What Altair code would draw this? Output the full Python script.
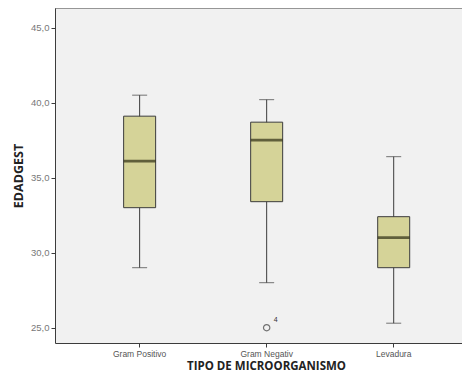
import altair as alt
import pandas as pd

categories = ["Gram Positivo", "Gram Negativ", "Levadura"]
lower_whisker = [29.0, 28.0, 25.3]
q1 = [33.0, 33.4, 29.0]
median = [36.1, 37.5, 31.0]
q3 = [39.1, 38.7, 32.4]
upper_whisker = [40.5, 40.2, 36.4]

outlier_cat = ["Gram Negativ"]
outlier_val = [25.0]
outlier_lbl = ["4"]

y_ticks = [25, 30, 35, 40, 45]
y_domain = [23.98, 46.31]

df = pd.DataFrame({
    "cat": categories,
    "lo": lower_whisker,
    "q1": q1,
    "med": median,
    "q3": q3,
    "hi": upper_whisker,
})
dfo = pd.DataFrame({"cat": outlier_cat, "v": outlier_val, "lbl": outlier_lbl})

dark = "#3c3c3c"
FONT = "Liberation Sans"

x_enc = alt.X(
    "cat:N",
    sort=categories,
    scale=alt.Scale(paddingInner=0, paddingOuter=0.102, align=0.815),
    axis=alt.Axis(
        title="TIPO DE MICROORGANISMO",
        labelAngle=0,
        labelFontSize=8.5,
        labelColor="#555555",
        labelFont=FONT,
        tickSize=4,
        tickColor=dark,
        domainColor=dark,
        labelPadding=2,
        titleFont="Open Sans",
        titleFontSize=11.5,
        titleFontWeight="bold",
        titleColor="#222222",
        titlePadding=3,
        titleX=211,
        titleAlign="center",
    ),
)
y_scale = alt.Scale(domain=y_domain, nice=False, zero=False)
y_axis = alt.Axis(
    title="EDADGEST",
    values=y_ticks,
    format=".1f",
    labelExpr="replace(datum.label, '.', ',')",
    labelFontSize=9.5,
    labelColor="#777777",
    labelFont=FONT,
    tickSize=4,
    tickColor=dark,
    domainColor=dark,
    labelPadding=2,
    grid=False,
    titleFont="Open Sans",
    titleFontSize=12.5,
    titleFontWeight="bold",
    titleColor="#222222",
    titlePadding=5,
)

base = alt.Chart(df)

whisker = base.mark_rule(color=dark, strokeWidth=1).encode(
    x=x_enc,
    y=alt.Y("lo:Q", scale=y_scale, axis=y_axis),
    y2="hi:Q",
)
caps_lo = base.mark_tick(color=dark, size=15, thickness=1).encode(
    x=alt.X("cat:N", sort=categories), y=alt.Y("lo:Q")
)
caps_hi = base.mark_tick(color=dark, size=15, thickness=1).encode(
    x=alt.X("cat:N", sort=categories), y=alt.Y("hi:Q")
)
box = base.mark_bar(size=32, color="#D5D398", stroke=dark, strokeWidth=1).encode(
    x=alt.X("cat:N", sort=categories), y=alt.Y("q1:Q"), y2="q3:Q"
)
med = base.mark_tick(color="#2e2e14", size=32, thickness=2.8).encode(
    x=alt.X("cat:N", sort=categories), y=alt.Y("med:Q")
)
outl = alt.Chart(dfo).mark_point(
    shape="circle", filled=False, color=dark, size=40, strokeWidth=1.2
).encode(x=alt.X("cat:N", sort=categories), y=alt.Y("v:Q"))
outl_lbl = alt.Chart(dfo).mark_text(
    dx=9, dy=-8, fontSize=7, font=FONT, color="#333333"
).encode(x=alt.X("cat:N", sort=categories), y=alt.Y("v:Q"), text="lbl:N")

top_line = alt.Chart(pd.DataFrame({"t": [y_domain[1]]})).mark_rule(
    color=dark, strokeWidth=1
).encode(y=alt.Y("t:Q"))

chart = (
    alt.layer(whisker, caps_lo, caps_hi, box, med, outl, outl_lbl, top_line)
    .properties(
        width=407,
        height=335,
        autosize=alt.AutoSizeParams(type="none"),
        padding={"left": 47, "top": 0, "right": 0, "bottom": 30},
        background="white",
    )
    .configure_view(fill="#F1F1F1", stroke=None)
)

chart.save("out.html", embed_options={"renderer": "svg", "actions": False})
